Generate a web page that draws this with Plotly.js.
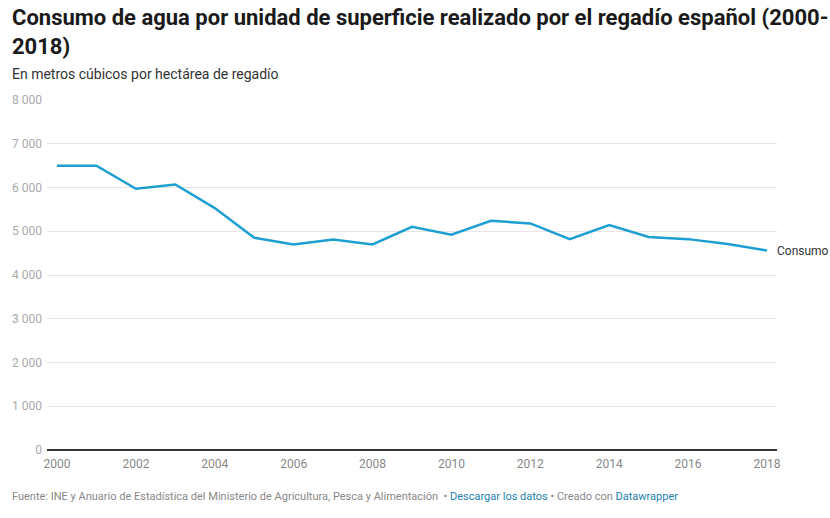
<!DOCTYPE html>
<html>
<head>
<meta charset="utf-8">
<script src="https://cdn.plot.ly/plotly-3.0.1.min.js"></script>
<style>html,body{margin:0;padding:0;background:#fff;}#chart{width:830px;height:518px;}</style>
</head>
<body>
<div id="chart"></div>
<script>
const years = [2000,2001,2002,2003,2004,2005,2006,2007,2008,2009,2010,2011,2012,2013,2014,2015,2016,2017,2018];
const consumo = [6500,6500,5970,6070,5530,4850,4700,4810,4700,5100,4920,5240,5180,4820,5140,4870,4820,4710,4560];
const seriesName = "Consumo";
const xTicks = [2000,2002,2004,2006,2008,2010,2012,2014,2016,2018];
const yTicks = [0,1000,2000,3000,4000,5000,6000,7000,8000];

const FONT = "Roboto, 'Noto Sans', sans-serif";
const trace = {
  x: years, y: consumo, type: 'scatter', mode: 'lines', name: seriesName,
  line: {color: '#1d9fd2', width: 2.5}, hoverinfo: 'x+y'
};
const layout = {
  width: 830, height: 518,
  margin: {l: 47, r: 53, t: 100, b: 68},
  paper_bgcolor: '#fff', plot_bgcolor: '#fff',
  separators: ', ',
  font: {family: FONT, color: '#333'},
  showlegend: false,
  xaxis: {
    range: [1999.746, 2018.254], tickvals: xTicks, ticktext: xTicks.map(String),
    showgrid: false, zeroline: false, showline: false, ticks: '', ticklabelstandoff: 5,
    tickfont: {family: FONT, size: 12, color: '#888'}, fixedrange: true
  },
  yaxis: {
    range: [0, 8000], tickvals: yTicks, tickformat: ',d',
    showgrid: true, gridcolor: '#e6e6e6', gridwidth: 1,
    zeroline: true, zerolinecolor: '#333', zerolinewidth: 2,
    showline: false, ticks: '', ticklabelstandoff: 4,
    tickfont: {family: FONT, size: 12, color: '#aaa'}, fixedrange: true
  },
  annotations: [
    {text: '<b>Consumo de agua por unidad de superficie realizado por el regadío español (2000-<br>2018)</b>',
     xref: 'paper', yref: 'paper', x: -37/730, y: (450-3)/350, xanchor: 'left', yanchor: 'top',
     align: 'left', showarrow: false,
     font: {family: FONT, size: 22, color: '#1a1a1a'}},
    {text: 'En metros cúbicos por hectárea de regadío', xref: 'paper', yref: 'paper',
     x: -37/730, y: (450-74)/350, xanchor: 'left', yanchor: 'middle', showarrow: false,
     font: {family: FONT, size: 14, color: '#333'}},
    {text: 'Fuente: INE y Anuario de Estadística del Ministerio de Agricultura, Pesca y Alimentación  • <span style="color:#1d81b0">Descargar los datos</span> • Creado con <span style="color:#1d81b0">Datawrapper</span>',
     xref: 'paper', yref: 'paper', x: -37/730, y: (450-496)/350, xanchor: 'left', yanchor: 'middle',
     showarrow: false, font: {family: FONT, size: 11, color: '#888'}},
    {text: seriesName, x: years[years.length-1], y: consumo[consumo.length-1], xref: 'x', yref: 'y',
     xanchor: 'left', yanchor: 'middle', xshift: 8, showarrow: false,
     font: {family: FONT, size: 12, color: '#333'}}
  ]
};
Plotly.newPlot('chart', [trace], layout, {displayModeBar: false, staticPlot: true});
</script>
</body>
</html>
